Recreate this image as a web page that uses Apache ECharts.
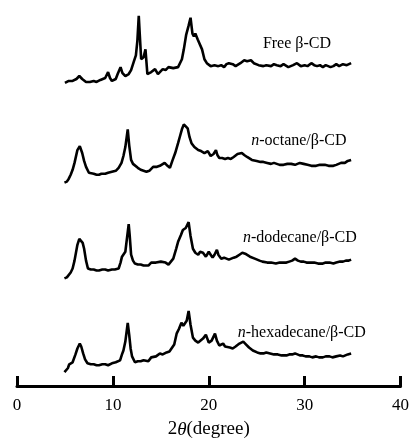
<!DOCTYPE html>
<html>
<head>
<meta charset="utf-8">
<script src="https://cdn.jsdelivr.net/npm/echarts@6/dist/echarts.min.js"></script>
<style>
  html, body { margin: 0; padding: 0; background: #fff; }
  #chart { width: 412px; height: 444px; }
</style>
</head>
<body>
<div id="chart"></div>
<script>
// XRD patterns, 2theta (degree) vs intensity (a.u.), stacked with offsets
var names = ['Free β-CD', '{i|n}-octane/β-CD', '{i|n}-dodecane/β-CD', '{i|n}-hexadecane/β-CD']
var offsets = [291, 194, 97, 0]

var freeCD = [
  [5.0, 16], [5.2, 17], [5.4, 18], [5.6, 16], [5.8, 18], [6.0, 19], [6.2, 20], [6.5, 23],
  [6.8, 20], [7.0, 18], [7.2, 17], [7.4, 16], [7.6, 17], [7.8, 16], [8.0, 18], [8.3, 17],
  [8.5, 17], [8.7, 19], [8.9, 18], [9.2, 21], [9.5, 27], [9.7, 21], [9.9, 18], [10.1, 19],
  [10.3, 20], [10.5, 25], [10.8, 32], [11.0, 26], [11.3, 23], [11.5, 24], [11.65, 25],
  [11.9, 29], [12.0, 30], [12.2, 38], [12.4, 44], [12.55, 58], [12.7, 84], [12.8, 66],
  [12.95, 40], [13.2, 42], [13.4, 50], [13.6, 25], [13.8, 24], [14.0, 27], [14.2, 28],
  [14.4, 30], [14.7, 25], [14.9, 27], [15.2, 30], [15.5, 29], [15.8, 32], [16.0, 30],
  [16.3, 31], [16.5, 33], [16.8, 32], [17.0, 34], [17.2, 40], [17.4, 50], [17.65, 65],
  [17.9, 74], [18.1, 82], [18.3, 66], [18.45, 63], [18.6, 66], [18.7, 68], [18.85, 60],
  [19.0, 58], [19.3, 50], [19.55, 40], [19.8, 36], [20.0, 34], [20.2, 33], [20.4, 35],
  [20.6, 34], [20.8, 32], [21.0, 33], [21.3, 34], [21.6, 32], [21.85, 35], [22.1, 36],
  [22.3, 34], [22.5, 35], [22.8, 33], [23.0, 34], [23.3, 36], [23.5, 37], [23.7, 39],
  [23.85, 41], [24.0, 38], [24.2, 38], [24.4, 39], [24.7, 36], [24.9, 37], [25.2, 34],
  [25.4, 35], [25.7, 33], [26.0, 34], [26.2, 35], [26.5, 33], [26.8, 35], [27.1, 34],
  [27.5, 33], [27.8, 35], [28.0, 34], [28.3, 32], [28.5, 32], [28.8, 34], [29.0, 33],
  [29.2, 36], [29.4, 34], [29.6, 33], [29.8, 35], [30.0, 34], [30.3, 33], [30.5, 35],
  [30.7, 36], [31.0, 34], [31.3, 33], [31.6, 34], [31.9, 32], [32.2, 34], [32.4, 34],
  [32.7, 32], [33.0, 33], [33.3, 35], [33.6, 33], [33.8, 34], [34.0, 35], [34.2, 33],
  [34.4, 34], [34.6, 36], [34.85, 36]
]

var octaneCD = [
  [4.95, 12], [5.2, 13], [5.4, 16], [5.6, 20], [5.8, 25], [6.0, 32], [6.3, 45], [6.55, 49],
  [6.8, 42], [7.0, 34], [7.2, 28], [7.5, 22], [7.7, 21], [8.0, 21], [8.3, 20], [8.55, 20],
  [8.8, 21], [9.0, 20], [9.2, 21], [9.5, 22], [9.7, 22], [9.9, 23], [10.1, 22], [10.3, 24],
  [10.6, 27], [10.9, 32], [11.1, 39], [11.3, 48], [11.55, 66], [11.7, 50], [11.9, 35],
  [12.1, 31], [12.3, 29], [12.6, 27], [12.9, 25], [13.2, 24], [13.5, 23], [13.8, 24],
  [14.0, 26], [14.2, 28], [14.4, 30], [14.6, 28], [14.9, 29], [15.1, 30], [15.4, 32],
  [15.7, 29], [15.95, 27], [16.2, 34], [16.5, 42], [16.8, 52], [17.0, 59], [17.2, 66],
  [17.4, 71], [17.6, 69], [17.8, 67], [18.0, 58], [18.2, 52], [18.5, 48], [18.7, 47],
  [18.9, 45], [19.2, 44], [19.55, 42], [19.7, 43], [19.9, 44], [20.2, 39], [20.5, 41],
  [20.75, 45], [20.9, 40], [21.1, 37], [21.4, 37], [21.7, 36], [22.0, 37], [22.3, 36],
  [22.6, 38], [22.8, 39], [23.0, 41], [23.2, 43], [23.45, 42], [23.7, 40], [24.0, 38],
  [24.2, 37], [24.5, 35], [24.7, 34], [25.0, 34], [25.4, 33], [25.7, 33], [26.1, 32],
  [26.5, 31], [26.8, 32], [27.0, 31], [27.4, 30], [27.8, 30], [28.2, 31], [28.6, 31],
  [29.0, 30], [29.5, 32], [29.9, 31], [30.3, 30], [30.7, 29], [31.2, 29], [31.6, 30],
  [32.1, 30], [32.5, 29], [33.0, 29], [33.3, 30], [33.5, 31], [33.8, 32], [34.0, 33],
  [34.2, 32], [34.5, 34], [34.7, 33], [34.85, 35]
]

var dodecaneCD = [
  [4.95, 12], [5.2, 13], [5.4, 15], [5.6, 18], [5.8, 22], [6.0, 30], [6.3, 46], [6.5, 52],
  [6.65, 54], [6.85, 48], [7.0, 42], [7.2, 30], [7.4, 22], [7.7, 21], [8.0, 21], [8.3, 20],
  [8.55, 20], [8.9, 21], [9.2, 21], [9.5, 20], [9.9, 21], [10.2, 21], [10.6, 22],
  [10.8, 28], [10.95, 34], [11.15, 36], [11.3, 39], [11.5, 55], [11.65, 67], [11.75, 56],
  [11.9, 36], [12.1, 30], [12.3, 27], [12.6, 26], [12.9, 26], [13.2, 25], [13.4, 24],
  [13.7, 25], [14.0, 28], [14.2, 29], [14.5, 28], [14.7, 26], [15.0, 29], [15.2, 30],
  [15.5, 28], [15.8, 26], [16.0, 28], [16.3, 32], [16.6, 42], [16.8, 49], [17.1, 56],
  [17.3, 61], [17.6, 63], [17.75, 65], [17.9, 69], [18.1, 55], [18.35, 42], [18.6, 38],
  [18.9, 36], [19.1, 39], [19.4, 38], [19.7, 34], [20.0, 39], [20.2, 36], [20.4, 33],
  [20.6, 36], [20.85, 41], [21.0, 36], [21.3, 32], [21.6, 33], [21.8, 33], [22.1, 31],
  [22.3, 32], [22.6, 33], [22.9, 34], [23.2, 36], [23.5, 38], [23.8, 37], [24.0, 36],
  [24.3, 34], [24.5, 33], [24.8, 32], [25.05, 31], [25.3, 30], [25.6, 29], [25.8, 29],
  [26.1, 28], [26.5, 28], [27.0, 27], [27.4, 28], [27.8, 28], [28.1, 28], [28.4, 29],
  [28.7, 30], [29.0, 32], [29.3, 30], [29.6, 29], [29.9, 29], [30.2, 28], [30.6, 28],
  [31.0, 28], [31.4, 27], [31.9, 27], [32.2, 28], [32.6, 28], [33.0, 27], [33.3, 28],
  [33.7, 29], [34.0, 29], [34.3, 30], [34.6, 30], [34.85, 31]
]

var hexadecaneCD = [
  [4.95, 14], [5.1, 16], [5.3, 18], [5.45, 22], [5.6, 24], [5.8, 24], [5.95, 26], [6.1, 32],
  [6.3, 38], [6.55, 43], [6.7, 40], [6.9, 33], [7.1, 27], [7.35, 23], [7.7, 22], [8.0, 22],
  [8.3, 21], [8.55, 21], [8.9, 22], [9.2, 22], [9.5, 21], [9.9, 23], [10.3, 24],
  [10.75, 26], [10.95, 32], [11.1, 36], [11.3, 45], [11.55, 64], [11.7, 52], [11.85, 38],
  [12.0, 30], [12.3, 24], [12.6, 25], [12.9, 25], [13.2, 26], [13.4, 26], [13.7, 25],
  [14.0, 29], [14.2, 31], [14.5, 30], [14.9, 33], [15.2, 32], [15.6, 34], [15.9, 35],
  [16.1, 33], [16.4, 42], [16.65, 53], [16.9, 58], [17.15, 64], [17.35, 61], [17.5, 63],
  [17.7, 66], [17.9, 76], [18.1, 62], [18.35, 49], [18.6, 46], [18.9, 44], [19.1, 46],
  [19.4, 48], [19.7, 52], [19.85, 48], [20.0, 44], [20.3, 46], [20.65, 53], [20.85, 46],
  [21.1, 41], [21.3, 42], [21.5, 43], [21.7, 40], [21.9, 41], [22.2, 39], [22.5, 38],
  [22.8, 40], [23.0, 41], [23.2, 43], [23.6, 45], [23.9, 42], [24.2, 39], [24.6, 36],
  [25.05, 34], [25.4, 33], [25.7, 33], [26.0, 34], [26.4, 33], [26.8, 32], [27.2, 32],
  [27.6, 31], [28.1, 31], [28.4, 32], [28.7, 32], [29.0, 33], [29.2, 33], [29.5, 31],
  [29.8, 31], [30.1, 30], [30.5, 30], [30.8, 29], [31.2, 30], [31.5, 29], [31.9, 29],
  [32.2, 30], [32.6, 30], [32.9, 29], [33.3, 30], [33.7, 31], [34.0, 30], [34.2, 31],
  [34.5, 32], [34.85, 33]
]

var patterns = [freeCD, octaneCD, dodecaneCD, hexadecaneCD]
var labelPos = [[29.2, 56], [29.4, 54], [29.5, 53], [29.7, 54]]
var xTicks = [0, 10, 20, 30, 40]

var serif = '"Liberation Serif", "DejaVu Serif", serif'

var series = patterns.map(function (p, i) {
  return {
    name: 'pattern' + i,
    type: 'line',
    showSymbol: false,
    smooth: false,
    silent: true,
    lineStyle: { color: '#000', width: 2.6 },
    data: p.map(function (d) { return [d[0], d[1] + offsets[i]] }),
    markPoint: {
      symbol: 'circle',
      symbolSize: 0,
      silent: true,
      label: {
        show: true,
        position: 'inside',
        formatter: names[i],
        color: '#000',
        fontFamily: serif,
        fontSize: 16,
        rich: { i: { fontStyle: 'italic', fontFamily: serif, fontSize: 16, color: '#000' } }
      },
      data: [{ coord: [labelPos[i][0], labelPos[i][1] + offsets[i]] }]
    }
  }
})

var myChart = echarts.init(document.getElementById('chart'))
myChart.setOption({
  animation: false,
  backgroundColor: '#fff',
  grid: { left: 17, right: 7, top: 0, bottom: 53 },
  xAxis: {
    type: 'value',
    min: xTicks[0],
    max: xTicks[xTicks.length - 1],
    interval: 10,
    name: '2{i|θ}(degree)',
    nameLocation: 'middle',
    nameGap: 34,
    nameTextStyle: {
      color: '#000', fontFamily: serif, fontSize: 19,
      rich: { i: { fontStyle: 'italic', fontFamily: serif, fontSize: 19, color: '#000' } }
    },
    axisLine: { show: true, lineStyle: { color: '#000', width: 3 } },
    axisTick: { show: true, inside: true, length: 10, lineStyle: { color: '#000', width: 3 } },
    axisLabel: { color: '#000', fontFamily: serif, fontSize: 17, margin: 11 },
    splitLine: { show: false }
  },
  yAxis: { type: 'value', min: 0, max: 391, show: false },
  series: series
})
</script>
</body>
</html>
